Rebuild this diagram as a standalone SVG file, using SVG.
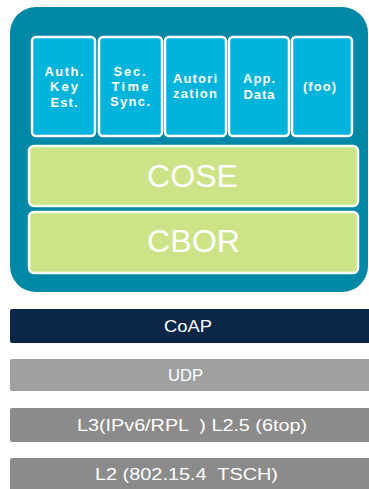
<svg xmlns="http://www.w3.org/2000/svg" width="369" height="489" viewBox="0 0 369 489">
<style>
.small{font-family:"Liberation Sans",Arial,sans-serif;font-size:13px;font-weight:bold;fill:#fff;text-anchor:middle}
.big{font-family:"Liberation Sans",Arial,sans-serif;font-size:32px;fill:#fff;text-anchor:middle}
.bar{font-family:"Liberation Sans",Arial,sans-serif;font-size:16px;fill:#fff;text-anchor:middle}
.cell{fill:#00b4dc;stroke:#fff;stroke-width:2.5}
.green{fill:#cce487;stroke:#fff;stroke-width:2.5}
</style>
<rect width="369" height="489" fill="#fff"/>
<g id="container"><rect x="10" y="7" width="358" height="285" rx="26" fill="#0088a6"/></g>
<g id="auth"><rect class="cell" x="32" y="37" width="63" height="99" rx="4"/>
<text class="small" x="64" y="76" textLength="39">Auth.</text><text class="small" x="64" y="91" textLength="28">Key</text><text class="small" x="64" y="107" textLength="27">Est.</text></g>
<g id="sectime"><rect class="cell" x="99" y="37" width="63" height="99" rx="4"/>
<text class="small" x="129.5" y="76" textLength="32">Sec.</text><text class="small" x="130" y="91" textLength="37">Time</text><text class="small" x="130" y="106" textLength="40">Sync.</text></g>
<g id="autori"><rect class="cell" x="165" y="37" width="61" height="99" rx="4"/>
<text class="small" x="195" y="83" textLength="44">Autori</text><text class="small" x="195" y="98" textLength="44">zation</text></g>
<g id="appdata"><rect class="cell" x="229" y="37" width="60" height="99" rx="4"/>
<text class="small" x="259" y="83" textLength="32">App.</text><text class="small" x="259" y="99" textLength="31">Data</text></g>
<g id="foo"><rect class="cell" x="292" y="37" width="60" height="99" rx="4"/>
<text class="small" x="319.5" y="91" textLength="33">(foo)</text></g>
<g id="cose"><rect class="green" x="29" y="146" width="329" height="60" rx="5"/>
<text class="big" x="192.5" y="187" textLength="91" lengthAdjust="spacingAndGlyphs">COSE</text></g>
<g id="cbor"><rect class="green" x="29" y="212" width="329" height="61" rx="5"/>
<text class="big" x="193.5" y="252" textLength="93" lengthAdjust="spacingAndGlyphs">CBOR</text></g>
<g id="coap"><rect x="10" y="309" width="362" height="34" rx="2" fill="#0b2748"/>
<text class="bar" x="188" y="332" textLength="48" lengthAdjust="spacingAndGlyphs">CoAP</text></g>
<g id="udp"><rect x="10" y="359" width="362" height="32" rx="2" fill="#a0a0a0"/>
<text class="bar" x="185.5" y="381" textLength="35" lengthAdjust="spacingAndGlyphs">UDP</text></g>
<g id="l3"><rect x="10" y="408" width="362" height="34" rx="2" fill="#8b8b8b"/>
<text class="bar" x="192" y="431" textLength="230" lengthAdjust="spacingAndGlyphs" xml:space="preserve">L3(IPv6/RPL  ) L2.5 (6top)</text></g>
<g id="l2"><rect x="10" y="458" width="362" height="40" rx="2" fill="#8b8b8b"/>
<text class="bar" x="186.5" y="480" textLength="183" lengthAdjust="spacingAndGlyphs" xml:space="preserve">L2 (802.15.4  TSCH)</text></g>
<g id="connectors"></g>
</svg>
